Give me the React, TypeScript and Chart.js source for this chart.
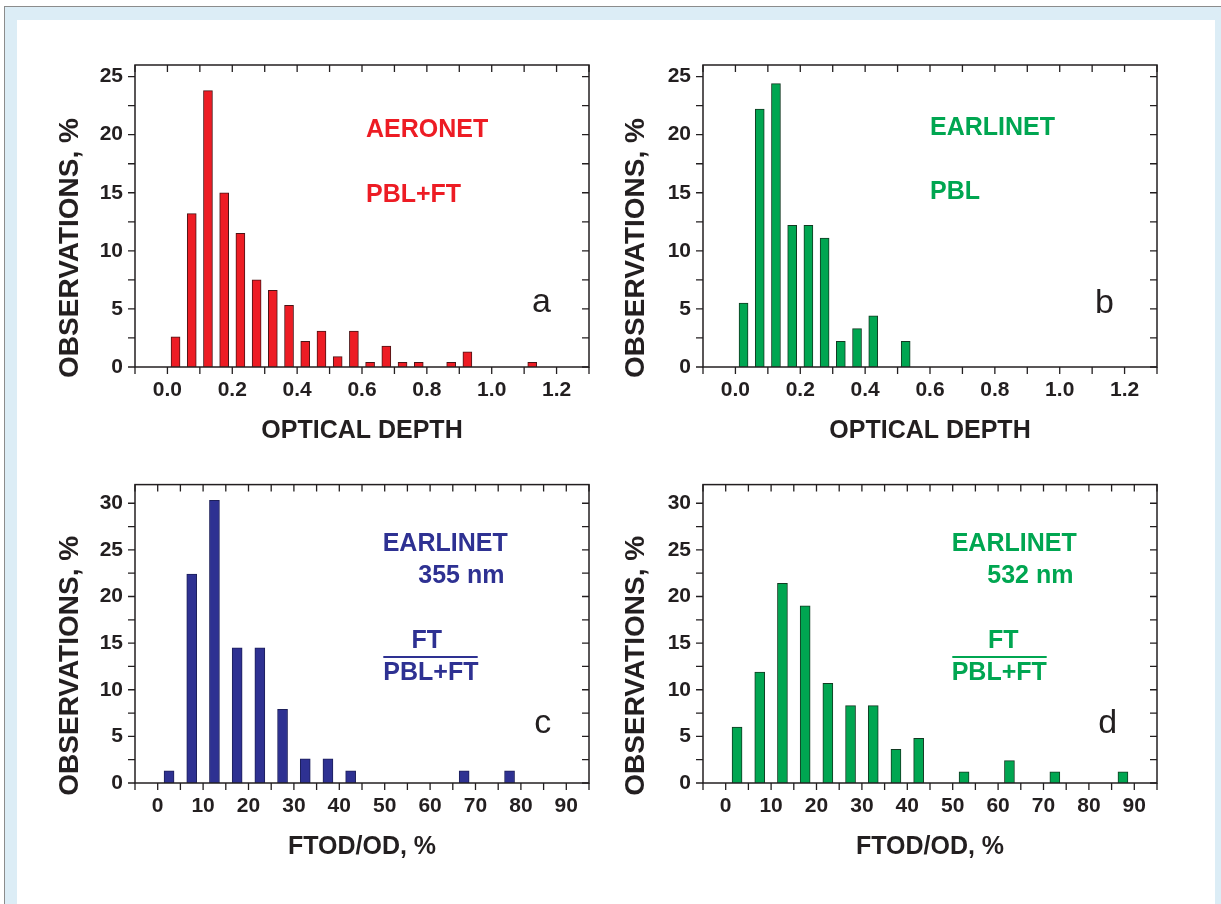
import React, { useEffect, useRef } from 'react';
import { Chart, registerables } from 'chart.js';

Chart.register(...registerables);

// ---------------- data ----------------
// (a) AERONET, PBL+FT optical depth
const odCentersA = [0.025, 0.075, 0.125, 0.175, 0.225, 0.275, 0.325, 0.375, 0.425, 0.475, 0.525, 0.575, 0.625, 0.675, 0.725, 0.775, 0.825, 0.875, 0.925, 0.975, 1.025, 1.075, 1.125];
const obsA = [2.6, 13.2, 23.8, 15.0, 11.5, 7.5, 6.6, 5.3, 2.2, 3.1, 0.9, 3.1, 0.4, 1.8, 0.4, 0.4, 0, 0.4, 1.3, 0, 0, 0, 0.4];

// (b) EARLINET, PBL optical depth
const odCentersB = [0.025, 0.075, 0.125, 0.175, 0.225, 0.275, 0.325, 0.375, 0.425, 0.475, 0.525];
const obsB = [5.5, 22.2, 24.4, 12.2, 12.2, 11.1, 2.2, 3.3, 4.4, 0, 2.2];

// (c) EARLINET 355 nm, FTOD/OD
const ftCentersC = [2.5, 7.5, 12.5, 17.5, 22.5, 27.5, 32.5, 37.5, 42.5, 47.5, 52.5, 57.5, 62.5, 67.5, 72.5, 77.5];
const obsC = [1.3, 22.4, 30.3, 14.5, 14.5, 7.9, 2.6, 2.6, 1.3, 0, 0, 0, 0, 1.3, 0, 1.3];

// (d) EARLINET 532 nm, FTOD/OD
const ftCentersD = [2.5, 7.5, 12.5, 17.5, 22.5, 27.5, 32.5, 37.5, 42.5, 47.5, 52.5, 57.5, 62.5, 67.5, 72.5, 77.5, 82.5, 87.5];
const obsD = [6.0, 11.9, 21.4, 19.0, 10.7, 8.3, 8.3, 3.6, 4.8, 0, 1.2, 0, 2.4, 0, 1.2, 0, 0, 1.2];

// tick labels
const odTicks = [0, 0.2, 0.4, 0.6, 0.8, 1.0, 1.2];
const odTickLabels = ['0.0', '0.2', '0.4', '0.6', '0.8', '1.0', '1.2'];
const ftTicks = [0, 10, 20, 30, 40, 50, 60, 70, 80, 90];
const ftTickLabels = ['0', '10', '20', '30', '40', '50', '60', '70', '80', '90'];
const obsTicksTop = [0, 5, 10, 15, 20, 25];
const obsTicksBottom = [0, 5, 10, 15, 20, 25, 30];

// ---------------- styles ----------------
const FAMILY = '"Liberation Sans", Arial, Helvetica, sans-serif';
const INK = '#231f20';
const RED = '#ed1c24';
const GREEN = '#00a651';
const BLUE = '#2e3192';

type Txt = { text: string; dx: number; dy: number; color: string; font: string; align?: CanvasTextAlign };
type Ln = { x1: number; x2: number; y: number; color: string };

const BOLD25 = `bold 25px ${FAMILY}`;
const LETTER = `34px ${FAMILY}`;
const YTITLE_FONT = `bold 28px ${FAMILY}`;

const framePlugin = {
  id: 'frame',
  afterDatasetsDraw(chart: any, _args: any, opts: any) {
    const { ctx, chartArea } = chart;
    const { left, right, top, bottom } = chartArea;
    const xs = chart.scales.x;
    const ys = chart.scales.y;
    ctx.save();
    ctx.strokeStyle = INK;
    ctx.lineWidth = 1.5;
    ctx.strokeRect(left, top, right - left, bottom - top);
    const T = 7;
    ctx.beginPath();
    const xm = opts.xMinor as number;
    for (let i = Math.ceil(xs.min / xm - 1e-6); i * xm <= xs.max + 1e-9; i++) {
      const px = xs.getPixelForValue(i * xm);
      ctx.moveTo(px, bottom);
      ctx.lineTo(px, bottom + T);
      ctx.moveTo(px, top);
      ctx.lineTo(px, top + T);
    }
    const ym = opts.yMinor as number;
    for (let i = 0; i * ym <= ys.max + 1e-9; i++) {
      const py = ys.getPixelForValue(i * ym);
      ctx.moveTo(left, py);
      ctx.lineTo(left - T, py);
      ctx.moveTo(right, py);
      ctx.lineTo(right - T, py);
    }
    ctx.lineWidth = 1.3;
    ctx.stroke();

    // y-axis title
    ctx.save();
    ctx.translate(left + opts.yTitleDx, (top + bottom) / 2 + opts.yTitleDy);
    ctx.rotate(-Math.PI / 2);
    ctx.font = YTITLE_FONT;
    ctx.fillStyle = INK;
    ctx.textAlign = 'center';
    ctx.textBaseline = 'middle';
    ctx.fillText(opts.yTitle, 0, 0);
    ctx.restore();

    ctx.textBaseline = 'alphabetic';
    (opts.texts as Txt[]).forEach((t) => {
      ctx.font = t.font;
      ctx.fillStyle = t.color;
      ctx.textAlign = t.align || 'left';
      ctx.fillText(t.text, left + t.dx, top + t.dy);
    });
    (opts.lines as Ln[]).forEach((l) => {
      ctx.beginPath();
      ctx.strokeStyle = l.color;
      ctx.lineWidth = 2;
      ctx.moveTo(left + l.x1, top + l.y);
      ctx.lineTo(left + l.x2, top + l.y);
      ctx.stroke();
    });
    ctx.restore();
  },
};

type PanelCfg = {
  box: { x: number; y: number; w: number; h: number };
  padTop: number;
  padRight: number;
  yAxisW: number;
  xAxisH: number;
  yTitleDx: number;
  xTitlePad: number;
  xs: number[];
  ys: number[];
  color: string;
  edge: string;
  barW: number;
  xMin: number;
  xMax: number;
  xTicks: number[];
  xTickLabels: string[];
  xMinor: number;
  yMax: number;
  yTicks: number[];
  xTitle: string;
  texts: Txt[];
  lines: Ln[];
};

function buildConfig(c: PanelCfg): any {
  const tickFont = { family: FAMILY, size: 21, weight: 'bold' as const };
  const titleFont = { family: FAMILY, size: 25, weight: 'bold' as const, lineHeight: 1.2 };
  return {
    type: 'bar',
    data: {
      datasets: [
        {
          data: c.xs.map((x, i) => ({ x, y: c.ys[i] })),
          backgroundColor: c.color,
          borderColor: c.edge,
          borderWidth: 1,
          borderSkipped: 'start',
          barThickness: c.barW,
        },
      ],
    },
    options: {
      responsive: false,
      animation: false,
      devicePixelRatio: 1,
      layout: { padding: { left: 0, top: c.padTop, right: c.padRight, bottom: 0 } },
      plugins: {
        legend: { display: false },
        tooltip: { enabled: false },
        frame: {
          xMinor: c.xMinor,
          yMinor: 2.5,
          texts: c.texts,
          lines: c.lines,
          yTitle: 'OBSERVATIONS, %',
          yTitleDx: c.yTitleDx,
          yTitleDy: 32,
        },
      },
      scales: {
        x: {
          type: 'linear',
          min: c.xMin,
          max: c.xMax,
          offset: false,
          grid: { display: false, drawTicks: false },
          border: { display: false },
          afterBuildTicks: (s: any) => {
            s.ticks = c.xTicks.map((v) => ({ value: v }));
          },
          afterFit: (s: any) => {
            s.height = c.xAxisH;
          },
          ticks: {
            autoSkip: false,
            maxRotation: 0,
            minRotation: 0,
            padding: 11,
            color: INK,
            font: tickFont,
            callback: (_v: any, i: number) => c.xTickLabels[i],
          },
          title: {
            display: true,
            text: c.xTitle,
            color: INK,
            font: titleFont,
            padding: { top: 0, bottom: c.xTitlePad },
          },
        },
        y: {
          type: 'linear',
          min: 0,
          max: c.yMax,
          grid: { display: false, drawTicks: false },
          border: { display: false },
          afterBuildTicks: (s: any) => {
            s.ticks = c.yTicks.map((v) => ({ value: v }));
          },
          afterFit: (s: any) => {
            s.width = c.yAxisW;
          },
          ticks: {
            autoSkip: false,
            padding: 12,
            color: INK,
            font: tickFont,
            callback: (v: any) => String(v),
          },
          title: { display: false },
        },
      },
    },
    plugins: [framePlugin],
  };
}

function Panel({ cfg }: { cfg: PanelCfg }) {
  const ref = useRef<HTMLCanvasElement>(null);
  useEffect(() => {
    const chart = new Chart(ref.current as HTMLCanvasElement, buildConfig(cfg));
    return () => chart.destroy();
  }, [cfg]);
  return (
    <canvas
      ref={ref}
      width={cfg.box.w}
      height={cfg.box.h}
      style={{ position: 'absolute', left: cfg.box.x, top: cfg.box.y, width: cfg.box.w, height: cfg.box.h }}
    />
  );
}

const panels: PanelCfg[] = [
  {
    box: { x: 20, y: 30, w: 590, h: 430 },
    padTop: 35,
    padRight: 21,
    yAxisW: 115,
    xAxisH: 93,
    yTitleDx: -65,
    xTitlePad: 14,
    xs: odCentersA,
    ys: obsA,
    color: RED,
    edge: '#4a1416',
    barW: 9,
    xMin: -0.1,
    xMax: 1.3,
    xTicks: odTicks,
    xTickLabels: odTickLabels,
    xMinor: 0.1,
    yMax: 26,
    yTicks: obsTicksTop,
    xTitle: 'OPTICAL DEPTH',
    texts: [
      { text: 'AERONET', dx: 231, dy: 71.7, color: RED, font: BOLD25 },
      { text: 'PBL+FT', dx: 231, dy: 136.7, color: RED, font: BOLD25 },
      { text: 'a', dx: 397, dy: 247, color: INK, font: LETTER },
    ],
    lines: [],
  },
  {
    box: { x: 610, y: 30, w: 590, h: 430 },
    padTop: 35,
    padRight: 43,
    yAxisW: 93,
    xAxisH: 93,
    yTitleDx: -67,
    xTitlePad: 14,
    xs: odCentersB,
    ys: obsB,
    color: GREEN,
    edge: '#123a22',
    barW: 9,
    xMin: -0.1,
    xMax: 1.3,
    xTicks: odTicks,
    xTickLabels: odTickLabels,
    xMinor: 0.1,
    yMax: 26,
    yTicks: obsTicksTop,
    xTitle: 'OPTICAL DEPTH',
    texts: [
      { text: 'EARLINET', dx: 227, dy: 70, color: GREEN, font: BOLD25 },
      { text: 'PBL', dx: 227, dy: 134.3, color: GREEN, font: BOLD25 },
      { text: 'b', dx: 392, dy: 248.3, color: INK, font: LETTER },
    ],
    lines: [],
  },
  {
    box: { x: 20, y: 460, w: 590, h: 430 },
    padTop: 22,
    padRight: 21,
    yAxisW: 115,
    xAxisH: 107,
    yTitleDx: -65,
    xTitlePad: 28,
    xs: ftCentersC,
    ys: obsC,
    color: BLUE,
    edge: '#1d1f5a',
    barW: 10,
    xMin: -5,
    xMax: 95,
    xTicks: ftTicks,
    xTickLabels: ftTickLabels,
    xMinor: 5,
    yMax: 32,
    yTicks: obsTicksBottom,
    xTitle: 'FTOD/OD, %',
    texts: [
      { text: 'EARLINET', dx: 247.7, dy: 66.3, color: BLUE, font: BOLD25 },
      { text: '355 nm', dx: 283.3, dy: 98.7, color: BLUE, font: BOLD25 },
      { text: 'FT', dx: 291.7, dy: 163.7, color: BLUE, font: BOLD25, align: 'center' },
      { text: 'PBL+FT', dx: 248.3, dy: 195.3, color: BLUE, font: BOLD25 },
      { text: 'c', dx: 399.3, dy: 248, color: INK, font: LETTER },
    ],
    lines: [{ x1: 248.3, x2: 342.7, y: 172.3, color: BLUE }],
  },
  {
    box: { x: 610, y: 460, w: 590, h: 430 },
    padTop: 22,
    padRight: 43,
    yAxisW: 93,
    xAxisH: 107,
    yTitleDx: -67,
    xTitlePad: 28,
    xs: ftCentersD,
    ys: obsD,
    color: GREEN,
    edge: '#123a22',
    barW: 10,
    xMin: -5,
    xMax: 95,
    xTicks: ftTicks,
    xTickLabels: ftTickLabels,
    xMinor: 5,
    yMax: 32,
    yTicks: obsTicksBottom,
    xTitle: 'FTOD/OD, %',
    texts: [
      { text: 'EARLINET', dx: 248.7, dy: 66.3, color: GREEN, font: BOLD25 },
      { text: '532 nm', dx: 284.3, dy: 98.7, color: GREEN, font: BOLD25 },
      { text: 'FT', dx: 300.3, dy: 163.7, color: GREEN, font: BOLD25, align: 'center' },
      { text: 'PBL+FT', dx: 248.7, dy: 195.3, color: GREEN, font: BOLD25 },
      { text: 'd', dx: 395.3, dy: 248, color: INK, font: LETTER },
    ],
    lines: [{ x1: 249.3, x2: 343.7, y: 172.3, color: GREEN }],
  },
];

export default function App() {
  return (
    <div style={{ position: 'absolute', left: 0, top: 0, width: 1221, height: 904, overflow: 'hidden', background: '#ffffff' }}>
      <div
        style={{
          position: 'absolute',
          left: 4,
          top: 6,
          width: 1300,
          height: 1000,
          background: '#dcedf6',
          borderLeft: '1px solid #8c8c8c',
          borderTop: '1px solid #8c8c8c',
        }}
      />
      <div style={{ position: 'absolute', left: 17, top: 20, width: 1198, height: 1000, background: '#ffffff' }} />
      {panels.map((p, i) => (
        <Panel key={i} cfg={p} />
      ))}
    </div>
  );
}
